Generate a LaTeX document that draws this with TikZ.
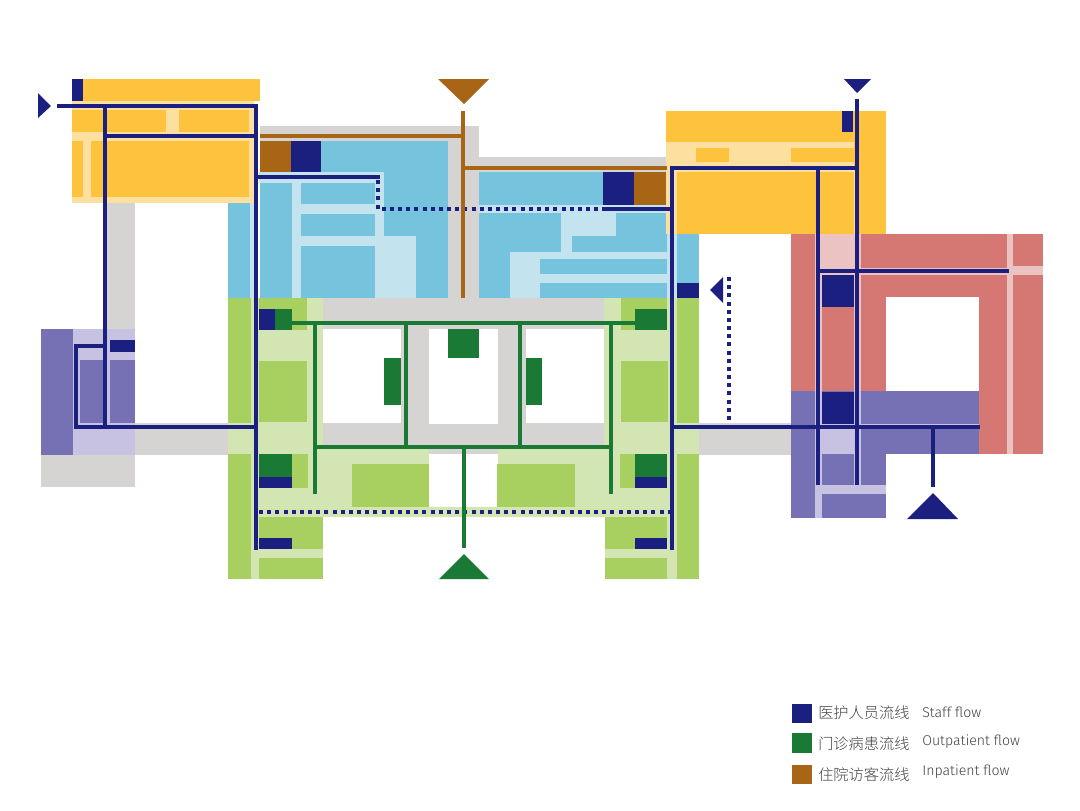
\documentclass[tikz,border=0pt]{standalone}
\usepackage{fontspec}
\setmainfont{Fira Sans Light}
\newfontfamily\cjk{Noto Sans CJK SC Light}
\definecolor{navy}{HTML}{1B2080}
\definecolor{grn}{HTML}{1A7A35}
\definecolor{brn}{HTML}{A96516}
\definecolor{yel}{HTML}{FDC33C}
\definecolor{lyel}{HTML}{FDE0A0}
\definecolor{blu}{HTML}{76C3DE}
\definecolor{lblu}{HTML}{C3E3EF}
\definecolor{lim}{HTML}{A7D060}
\definecolor{llim}{HTML}{D3E5B3}
\definecolor{gry}{HTML}{D5D4D3}
\definecolor{pur}{HTML}{7670B4}
\definecolor{lpur}{HTML}{C7C2E2}
\definecolor{rd}{HTML}{D57773}
\definecolor{lrd}{HTML}{EBC3C3}
\newcommand{\blk}[5]{\fill[#1] (#2,#3) rectangle (#4,#5);}
\tikzset{
 flow/.style={line width=2.9pt,line cap=butt,line join=miter},
 staff/.style={flow,draw=navy},
 outp/.style={flow,draw=grn},
 inp/.style={flow,draw=brn},
 dots/.style={staff,dash pattern=on 3pt off 3.13pt},
 legcn/.style={anchor=west,inner sep=0pt,font=\cjk\fontsize{11.4pt}{12pt}\selectfont,text=black!75},
 legen/.style={anchor=west,inner sep=0pt,font=\fontsize{10.6pt}{12pt}\selectfont,text=black!75},
}
\begin{document}
\begin{tikzpicture}[x=0.75pt,y=-0.75pt]
\useasboundingbox (0,0) rectangle (1080,810);
\fill[white] (0,0) rectangle (1080,810);
% --- grey corridors
\blk{gry}{105}{203}{135}{330}
\blk{gry}{135}{423}{228}{455}
\blk{gry}{41}{455}{135}{487}
\blk{gry}{260}{126}{479}{141}
\blk{gry}{448}{126}{479}{298}
\blk{gry}{479}{157}{667}{172}
\blk{gry}{699}{423}{791}{455}
% --- top-left yellow
\blk{lyel}{72}{101}{254}{203}
\blk{yel}{72}{79}{260}{101}
\blk{yel}{72}{110}{166}{132}
\blk{yel}{179}{110}{249}{132}
\blk{yel}{72}{141}{83}{197}
\blk{yel}{91}{141}{249}{197}
\blk{navy}{72}{79}{83}{101}
% --- purple left
\blk{pur}{41}{329}{73}{455}
\blk{lpur}{73}{329}{135}{455}
\blk{pur}{80}{360}{105}{423}
\blk{pur}{110}{360}{135}{423}
\blk{navy}{110}{340}{135}{352}
% --- blue left
\blk{blu}{228}{203}{250}{298}
\blk{lblu}{250}{203}{254}{298}
\blk{blu}{260}{141}{448}{298}
\blk{lblu}{259}{172}{384}{183}
\blk{lblu}{292}{204}{384}{214}
\blk{lblu}{292}{183}{301}{298}
\blk{lblu}{301}{236}{416}{246}
\blk{lblu}{375}{172}{384}{237}
\blk{lblu}{375}{237}{416}{298}
\blk{brn}{260}{141}{291}{172}
\blk{navy}{291}{141}{321}{172}
% --- blue right
\blk{blu}{479}{172}{667}{298}
\blk{lblu}{479}{205}{667}{213}
\blk{lblu}{561}{213}{616}{236}
\blk{lblu}{561}{236}{572}{252}
\blk{lblu}{510}{252}{667}{259}
\blk{lblu}{510}{252}{540}{298}
\blk{lblu}{540}{274}{667}{283}
\blk{navy}{603}{172}{634}{205}
\blk{brn}{634}{172}{667}{205}
% --- yellow right
\blk{yel}{666}{111}{886}{234}
\blk{lyel}{666}{142}{854}{166}
\blk{lyel}{666}{166}{677}{234}
\blk{lyel}{666}{166}{857}{172}
\blk{lyel}{854}{172}{857}{234}
\blk{yel}{696}{148}{729}{162}
\blk{yel}{791}{148}{854}{162}
\blk{navy}{842}{111}{853}{132}
% --- blue strip right
\blk{lblu}{667}{234}{677}{298}
\blk{blu}{677}{234}{699}{298}
\blk{navy}{677}{283}{699}{298}
% --- lime / courtyard ring
\blk{llim}{228}{423}{260}{454}
\blk{lim}{228}{298}{251}{423}
\blk{lim}{228}{454}{251}{579}
\blk{llim}{251}{298}{259}{579}
\blk{llim}{259}{298}{323}{517}
\blk{llim}{604}{298}{667}{517}
\blk{llim}{667}{298}{677}{579}
\blk{llim}{677}{423}{699}{454}
\blk{lim}{677}{298}{699}{423}
\blk{lim}{677}{454}{699}{579}
\blk{llim}{323}{447}{604}{517}
\blk{gry}{323}{298}{604}{447}
\blk{gry}{429}{447}{498}{454}
\blk{white}{323}{329}{401}{423}
\blk{white}{429}{329}{498}{424}
\blk{white}{526}{329}{604}{423}
\blk{white}{429}{454}{498}{507}
\blk{lim}{352}{464}{429}{507}
\blk{lim}{497}{464}{575}{507}
% left lime blocks
\blk{lim}{259}{298}{307}{330}
\blk{lim}{259}{361}{307}{422}
\blk{lim}{259}{454}{308}{488}
\blk{lim}{259}{517}{323}{549}
\blk{llim}{259}{549}{323}{558}
\blk{lim}{259}{558}{323}{579}
\blk{navy}{259}{309}{275}{330}
\blk{grn}{275}{309}{292}{330}
\blk{grn}{259}{454}{292}{477}
\blk{navy}{259}{477}{292}{488}
\blk{navy}{259}{538}{292}{549}
% right lime blocks
\blk{lim}{621}{298}{667}{330}
\blk{lim}{621}{361}{668}{422}
\blk{lim}{620}{454}{667}{488}
\blk{lim}{605}{517}{667}{549}
\blk{llim}{605}{549}{667}{558}
\blk{lim}{605}{558}{667}{579}
\blk{grn}{635}{309}{667}{330}
\blk{grn}{635}{454}{667}{477}
\blk{navy}{635}{477}{667}{488}
\blk{navy}{635}{538}{667}{549}
% centre green blocks
\blk{grn}{448}{329}{479}{358}
\blk{grn}{384}{358}{401}{405}
\blk{grn}{526}{358}{542}{405}
% --- red / purple right
\blk{rd}{791}{234}{1043}{454}
\blk{white}{886}{297}{979}{391}
\blk{pur}{791}{391}{979}{454}
\blk{pur}{791}{454}{886}{518}
\blk{white}{886}{454}{886}{518}
\blk{lrd}{815}{234}{822}{391}
\blk{lrd}{854}{234}{861}{391}
\blk{lrd}{822}{234}{854}{268}
\blk{lrd}{815}{268}{1007}{275}
\blk{lrd}{1007}{234}{1013}{454}
\blk{lrd}{1013}{266}{1043}{275}
\blk{lpur}{815}{391}{822}{518}
\blk{lpur}{854}{391}{861}{485}
\blk{lpur}{822}{424}{854}{454}
\blk{lpur}{815}{485}{886}{494}
\blk{lpur}{861}{424}{979}{426}
\blk{navy}{822}{275}{854}{307}
\blk{navy}{822}{392}{854}{424}
% --- staff flows
\draw[staff] (57,106) -- (256,106) -- (256,550);
\draw[staff] (105,106) -- (105,429);
\draw[staff] (105,136) -- (256,136);
\draw[staff] (256,427) -- (76,427) -- (76,346) -- (105,346);
\draw[staff] (256,177) -- (380,177);
\draw[dots] (378,180) -- (378,209) -- (603,209);
\draw[staff] (603,209) -- (672,209);
\draw[dots] (259,512) -- (672,512);
\draw[staff] (857,99) -- (857,485);
\draw[staff] (857,168) -- (672,168) -- (672,550);
\draw[staff] (818,168) -- (818,485);
\draw[staff] (818,271) -- (1009,271);
\draw[staff] (672,427) -- (980,427);
\draw[staff] (933,427) -- (933,487);
\draw[dots] (729,277) -- (729,423);
\fill[navy] (38,93) -- (51,106) -- (38,118) -- cycle;
\fill[navy] (844,79) -- (871,79) -- (857,93) -- cycle;
\fill[navy] (710,290) -- (723,277) -- (723,303) -- cycle;
\fill[navy] (907,519) -- (933,493) -- (958,519) -- cycle;
% --- inpatient flows
\draw[inp] (260,136) -- (463,136);
\draw[inp] (463,111) -- (463,298);
\draw[inp] (463,168) -- (667,168);
\fill[brn] (438,79) -- (489,79) -- (464,104) -- cycle;
% --- outpatient flows
\draw[outp] (292,323) -- (635,323);
\draw[outp] (315,323) -- (315,494);
\draw[outp] (611,323) -- (611,494);
\draw[outp] (406,323) -- (406,447);
\draw[outp] (520,323) -- (520,447);
\draw[outp] (315,447) -- (611,447);
\draw[outp] (464,447) -- (464,548);
\fill[grn] (439,579) -- (464,554) -- (489,579) -- cycle;
% --- legend
\blk{navy}{792}{704}{812}{723}
\blk{grn}{792}{733}{812}{753}
\blk{brn}{792}{765}{812}{784}
\node[legcn] (c1) at (818,713) {医护人员流线};
\node[legcn] (c2) at (818,744) {门诊病患流线};
\node[legcn] (c3) at (818,775) {住院访客流线};
\node[legen] (e1) at (922,712) {Staff flow};
\node[legen] (e2) at (922,742) {Outpatient flow};
\node[legen] (e3) at (922,772) {Inpatient flow};
\end{tikzpicture}
\end{document}
